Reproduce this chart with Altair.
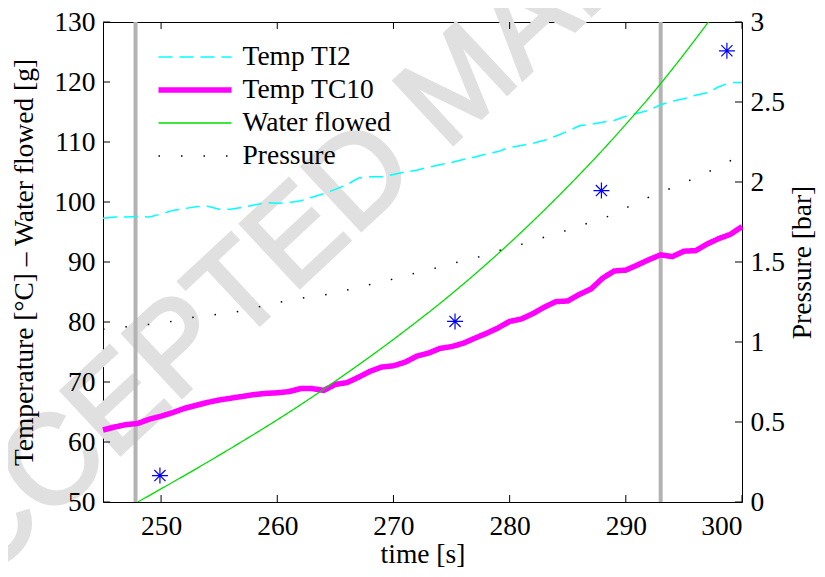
import altair as alt
import pandas as pd

# ---------------- data ----------------
series_names = ["Temp TI2", "Temp TC10", "Water flowed", "Pressure"]

time_1s = list(range(245, 301))
temp_ti2 = [97.3, 97.5, 97.5, 97.6, 97.5, 98.0, 98.6, 98.9, 99.2, 99.3,
            98.8, 98.8, 99.1, 99.5, 99.9, 99.8, 99.9, 100.2, 100.8, 101.4,
            102.1, 102.9, 104.0, 104.2, 104.2, 104.6, 105.0, 105.3, 105.8, 106.2,
            106.6, 107.1, 107.5, 108.0, 108.4, 109.1, 109.4, 109.8, 110.3, 111.0,
            111.8, 112.7, 112.95, 113.3, 113.6, 114.3, 114.8, 115.3, 116.2, 116.8,
            117.2, 117.8, 118.2, 119.2, 119.9, 119.9]
temp_tc10 = [62.0, 62.5, 62.9, 63.1, 63.8, 64.3, 64.9, 65.6, 66.1, 66.6,
             67.0, 67.3, 67.6, 67.9, 68.1, 68.2, 68.4, 68.9, 68.9, 68.6,
             69.6, 69.9, 70.8, 71.8, 72.5, 72.7, 73.3, 74.3, 74.8, 75.6,
             75.9, 76.45, 77.3, 78.1, 79.0, 80.1, 80.5, 81.4, 82.5, 83.4,
             83.5, 84.6, 85.5, 87.3, 88.5, 88.65, 89.5, 90.4, 91.2, 90.9,
             91.8, 91.9, 93.0, 93.9, 94.6, 95.9]

water_time = list(range(248, 299, 2))
water_flowed = [50.0, 52.2, 54.4, 56.65, 58.95, 61.3, 63.7, 66.2, 68.8, 71.5,
                74.25, 77.1, 80.05, 83.1, 86.3, 89.65, 93.15, 96.8, 100.6, 104.55,
                108.65, 112.95, 117.4, 122.15, 127.15, 132.35]

pressure_time = list(range(245, 300, 2)) + [300]
pressure_bar = [1.08, 1.095, 1.11, 1.13, 1.157, 1.174, 1.195, 1.23, 1.26, 1.285,
                1.305, 1.345, 1.375, 1.415, 1.45, 1.49, 1.525, 1.57, 1.61, 1.655,
                1.70, 1.75, 1.80, 1.874, 1.935, 1.995, 2.06, 2.133, 2.17]

star_time = [249.9, 275.3, 287.9, 298.7]
star_value = [54.4, 80.1, 101.9, 125.2]

marker_time = [247.8, 293.0]

x_ticks = [250, 260, 270, 280, 290, 300]
left_ticks = [50, 60, 70, 80, 90, 100, 110, 120, 130]
right_ticks = [0, 0.5, 1, 1.5, 2, 2.5, 3]

watermark_text = ["ACCEPTED MANUSCRIPT"]

# ---------------- tables ----------------
df_ti2 = pd.DataFrame({"t": time_1s, "v": temp_ti2, "series": series_names[0]})
df_tc10 = pd.DataFrame({"t": time_1s, "v": temp_tc10, "series": series_names[1]})
df_water = pd.DataFrame({"t": water_time, "v": water_flowed, "series": series_names[2]})
df_press = pd.DataFrame({"t": pressure_time, "v": pressure_bar, "series": series_names[3]})
df_star = pd.DataFrame({"t": star_time, "v": star_value})
df_marker = pd.DataFrame({"t": marker_time})
df_xt = pd.DataFrame({"t": x_ticks})
df_lt = pd.DataFrame({"v": left_ticks})
df_rt = pd.DataFrame({"v": right_ticks})
df_wm = pd.DataFrame({"t": [275.8], "v": [119.5], "label": watermark_text})

W, H = 639, 480
SERIF = "Times New Roman, Liberation Serif, Tinos, DejaVu Serif, serif"
FS = 27.5

x_enc = alt.X("t:Q", scale=alt.Scale(domain=[245, 300], nice=False, zero=False),
              axis=alt.Axis(values=x_ticks, title="time [s]", labelPadding=10,
                            titlePadding=1, domain=False, ticks=False, grid=False, zindex=2))
y_left = alt.Y("v:Q", scale=alt.Scale(domain=[50, 130], nice=False, zero=False),
               axis=alt.Axis(values=left_ticks, title="Temperature [°C] – Water flowed [g]",
                             labelPadding=8, titlePadding=15, domain=False, ticks=False,
                             grid=False, zindex=2))
y_right = alt.Y("v:Q", scale=alt.Scale(domain=[0, 3], nice=False, zero=False),
                axis=alt.Axis(orient="right", values=right_ticks, format="~g",
                              title="Pressure [bar]", titleAngle=270, titleBaseline="top",
                              labelPadding=8, titlePadding=4, domain=False, ticks=False,
                              grid=False, zindex=2))

legend = alt.Legend(orient="none", legendX=52.5, legendY=18.5, title=None,
                    symbolType="stroke", symbolSize=5329, clipHeight=33, rowPadding=0,
                    labelFont=SERIF, labelFontSize=FS, labelOffset=8, padding=0,
                    labelLimit=400, labelColor="black")

color = alt.Color("series:N", scale=alt.Scale(domain=series_names,
                  range=["#00ffff", "#ff00ff", "#00dd00", "#000000"]), legend=legend)
dash = alt.StrokeDash("series:N", scale=alt.Scale(domain=series_names,
                      range=[[14, 7], [1, 0], [1, 0], [1.5, 21]]), legend=legend)
width = alt.StrokeWidth("series:N", scale=alt.Scale(type="ordinal", domain=series_names,
                        range=[1.5, 5.5, 1.3, 1.5]), legend=legend)

watermark = alt.Chart(df_wm).mark_text(angle=317, fontSize=126, font="Liberation Sans",
                                       color="#e0e0e0", stroke="#e0e0e0", strokeWidth=3.5,
                                       align="center", baseline="middle").encode(
    x=x_enc, y=y_left, text="label:N")

gray = alt.Chart(df_marker).mark_rule(color="#b3b3b3", strokeWidth=4).encode(x=x_enc)

def series_line(df, **kw):
    return alt.Chart(df).mark_line(**kw).encode(x=x_enc, y=y_left, color=color,
                                                strokeDash=dash, strokeWidth=width)

line_ti2 = series_line(df_ti2)
line_tc10 = series_line(df_tc10)
line_water = series_line(df_water, clip=True, interpolate="monotone")

star_shape = "M-1,0L1,0M0,-1L0,1M-0.7,-0.7L0.7,0.7M-0.7,0.7L0.7,-0.7"
stars = alt.Chart(df_star).mark_point(shape=star_shape, size=256, filled=False,
                                      color="#0000ff", strokeWidth=1.2, opacity=1).encode(
    x=x_enc, y=y_left)

tick_bottom = alt.Chart(df_xt).mark_rule(color="black").encode(
    x=x_enc, y=alt.value(H), y2=alt.value(H - 7))
tick_top = alt.Chart(df_xt).mark_rule(color="black").encode(
    x=x_enc, y=alt.value(0), y2=alt.value(7))
tick_left = alt.Chart(df_lt).mark_rule(color="black").encode(
    y=y_left, x=alt.value(0), x2=alt.value(7))

left = alt.layer(watermark, gray, line_ti2, line_tc10, line_water, stars,
                 tick_bottom, tick_top, tick_left)

line_press = alt.Chart(df_press).mark_line(interpolate="monotone").encode(
    x=x_enc, y=y_right, color=color, strokeDash=dash, strokeWidth=width)
tick_right = alt.Chart(df_rt).mark_rule(color="black").encode(
    y=y_right, x=alt.value(W), x2=alt.value(W - 7))
right = alt.layer(line_press, tick_right)

chart = alt.layer(left, right).resolve_scale(y="independent").properties(
    width=W, height=H,
    autosize=alt.AutoSizeParams(type="none"),
    padding={"left": 95, "top": 14, "right": 75, "bottom": 67},
    background="white",
).configure_view(stroke="black", strokeWidth=1).configure_axis(
    labelFont=SERIF, labelFontSize=FS, labelColor="black",
    titleFont=SERIF, titleFontSize=FS, titleFontWeight="normal", titleColor="black",
)

chart.save("out.html", embed_options={"renderer": "svg", "actions": False})
